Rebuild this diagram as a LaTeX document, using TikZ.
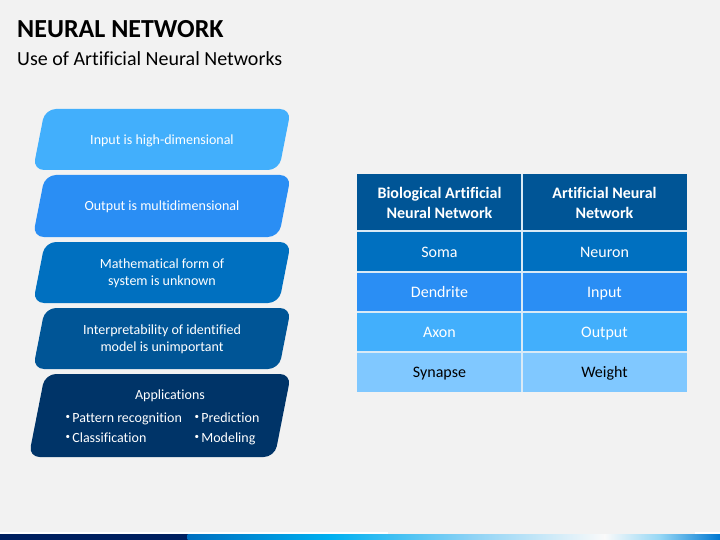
\documentclass[tikz,border=0pt]{standalone}
\usepackage{fontspec}
\setmainfont{Carlito}[Ligatures={NoCommon}]
\usetikzlibrary{positioning}
\definecolor{bg}{RGB}{242,242,242}
\definecolor{cA}{RGB}{66,175,252}
\definecolor{cB}{RGB}{42,142,244}
\definecolor{cC}{RGB}{0,112,192}
\definecolor{cD}{RGB}{0,85,150}
\definecolor{cE}{RGB}{0,52,104}
\definecolor{cF}{RGB}{128,200,255}
\definecolor{navy}{RGB}{0,32,96}
\newcommand{\smbul}{{\fontsize{9}{9}\selectfont\raisebox{2.2pt}{\textbullet}}\,}
\tikzset{
  para/.style={rounded corners=11pt, draw=none},
  ptext/.style={text=white, font=\fontsize{14}{17}\selectfont, align=center},
  cell/.style={text=white, font=\fontsize{16}{19}\selectfont, align=center, anchor=base},
  hcell/.style={text=white, font=\fontsize{16}{19.5}\selectfont\bfseries, align=center},
  sep/.style={draw=white!85!cC, line width=1.2pt}
}
\begin{document}
\begin{tikzpicture}[x=1pt,y=-1pt]
\useasboundingbox (0,0) rectangle (720,540);
\fill[bg] (0,0) rectangle (720,540);
% title
\node[anchor=base west, inner sep=0, font=\fontsize{26}{29}\selectfont\bfseries] (title) at (17,38) {NEURAL NETWORK};
\node[anchor=base west, inner sep=0, font=\fontsize{20}{24}\selectfont] (subtitle) at (17,66) {Use of Artificial Neural Networks};
% left parallelograms
\newcommand{\paral}[3]{\fill[para,#1] (45,#2) -- (291,#2) -- ({291-12*(#3-#2)/61},#3) -- ({45-12*(#3-#2)/61},#3) -- cycle;}
\paral{cA}{109}{170}
\paral{cB}{175}{237}
\paral{cC}{242}{303}
\paral{cD}{308}{369}
\paral{cE}{374}{457}
\node[ptext, anchor=base] (p1) at (162,145) {Input is high-dimensional};
\node[ptext, anchor=base] (p2) at (162,211) {Output is multidimensional};
\node[ptext] (p3) at (162,273) {Mathematical form of\\system is unknown};
\node[ptext] (p4) at (162,339.5) {Interpretability of identified\\model is unimportant};
\node[ptext, anchor=base] (p5) at (170,399) {Applications};
\node[ptext, anchor=base west] (a1) at (62,422) {\smbul Pattern recognition};
\node[ptext, anchor=base west] (a2) at (62,442) {\smbul Classification};
\node[ptext, anchor=base west] (a3) at (191,422) {\smbul Prediction};
\node[ptext, anchor=base west] (a4) at (191,442) {\smbul Modeling};
% table
\fill[cD] (357,174) rectangle (687,231);
\fill[cC] (357,231) rectangle (687,272);
\fill[cB] (357,272) rectangle (687,312);
\fill[cA] (357,312) rectangle (687,352);
\fill[cF] (357,352) rectangle (687,392);
\draw[sep] (357,231) -- (687,231);
\draw[sep] (357,272) -- (687,272);
\draw[sep] (357,312) -- (687,312);
\draw[sep] (357,352) -- (687,352);
\draw[sep] (522,174) -- (522,392);
\node[hcell] (h1) at (439.5,203) {Biological Artificial\\Neural Network};
\node[hcell] (h2) at (604.5,203) {Artificial Neural\\Network};
\node[cell] (r1a) at (439.5,257.5) {Soma};
\node[cell] (r1b) at (604.5,257.5) {Neuron};
\node[cell] (r2a) at (439.5,297.5) {Dendrite};
\node[cell] (r2b) at (604.5,297.5) {Input};
\node[cell] (r3a) at (439.5,337.5) {Axon};
\node[cell] (r3b) at (604.5,337.5) {Output};
\node[cell, text=black] (r4a) at (439.5,377.5) {Synapse};
\node[cell, text=black] (r4b) at (604.5,377.5) {Weight};
% bottom bar
\fill[white] (0,532) rectangle (388,534);
\fill[white] (695,532) rectangle (720,534);
\fill[navy] (0,534) rectangle (188,540);
\shade[left color={rgb,255:red,0;green,112;blue,192}, right color={rgb,255:red,0;green,176;blue,240}] (187.5,534) rectangle (330,540);
\shade[left color={rgb,255:red,0;green,176;blue,240}, right color={rgb,255:red,140;green,210;blue,245}] (329.5,534) rectangle (470,540);
\shade[left color={rgb,255:red,140;green,210;blue,245}, right color={rgb,255:red,250;green,250;blue,250}] (469.5,534) rectangle (605,540);
\shade[left color={rgb,255:red,250;green,250;blue,250}, right color={rgb,255:red,150;green,215;blue,245}] (604.5,534) rectangle (660,540);
\shade[left color={rgb,255:red,150;green,215;blue,245}, right color={rgb,255:red,0;green,120;blue,210}] (659.5,534) rectangle (720,540);
\end{tikzpicture}
\end{document}
